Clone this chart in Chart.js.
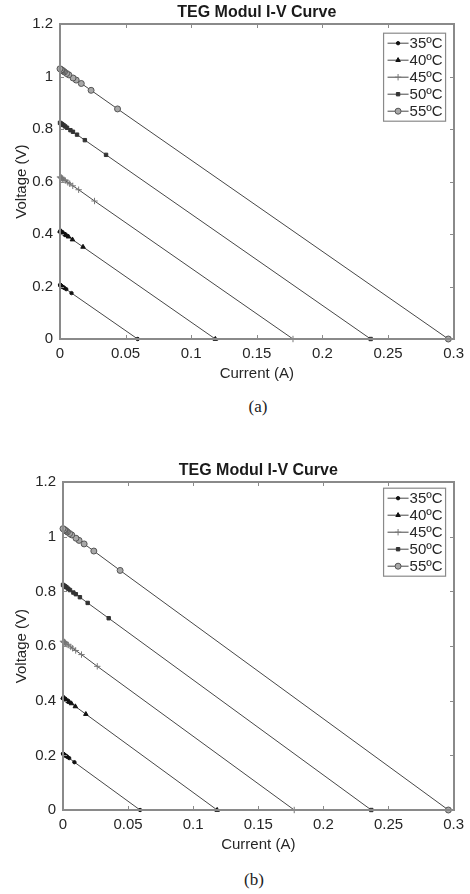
<!DOCTYPE html>
<html>
<head>
<meta charset="utf-8">
<title>TEG Modul I-V Curve</title>
<script src="https://cdn.jsdelivr.net/npm/chart.js@4.4.1/dist/chart.umd.min.js"></script>
<style>
  html, body { margin: 0; padding: 0; background: #fff; }
  body { position: relative; width: 470px; height: 894px; overflow: hidden; }
  canvas { position: absolute; left: 0; }
  .caption {
    position: absolute; width: 80px; text-align: center;
    font-family: "Liberation Serif", "Times New Roman", serif; font-size: 17px; color: #222;
  }
</style>
</head>
<body>
<canvas id="chartA" width="470" height="385" style="top:0px"></canvas>
<div class="caption" style="left:218px; top:397px">(a)</div>
<canvas id="chartB" width="470" height="398" style="top:458px"></canvas>
<div class="caption" style="left:214px; top:870px">(b)</div>

<script>
// measured load points, from short circuit (R = 0) up to open circuit
const seriesLabels = ['35ºC', '40ºC', '45ºC', '50ºC', '55ºC'];

const current35 = [0.0592, 0.00877, 0.00474, 0.00325, 0.00247, 0.00199, 0.00134, 0.00101, 0.00068, 0.00051, 0.00034, 0.00026, 0.00021, 0];
const voltage35 = [0, 0.175, 0.190, 0.195, 0.197, 0.199, 0.201, 0.202, 0.204, 0.204, 0.205, 0.205, 0.205, 0.206];

const current40 = [0.1184, 0.01755, 0.00948, 0.00649, 0.00494, 0.00398, 0.00268, 0.00202, 0.00136, 0.00102, 0.00068, 0.00051, 0.00041, 0];
const voltage40 = [0, 0.351, 0.379, 0.390, 0.395, 0.398, 0.403, 0.405, 0.407, 0.408, 0.410, 0.410, 0.411, 0.412];

const current45 = [0.1776, 0.02632, 0.01421, 0.00974, 0.0074, 0.00597, 0.00403, 0.00304, 0.00204, 0.00153, 0.00103, 0.00077, 0.00062, 0];
const voltage45 = [0, 0.526, 0.569, 0.584, 0.592, 0.597, 0.604, 0.607, 0.611, 0.613, 0.614, 0.615, 0.616, 0.618];

const current50 = [0.2368, 0.0351, 0.01895, 0.01298, 0.00987, 0.00796, 0.00537, 0.00405, 0.00272, 0.00204, 0.00137, 0.00103, 0.00082, 0];
const voltage50 = [0, 0.702, 0.758, 0.779, 0.790, 0.796, 0.805, 0.810, 0.815, 0.817, 0.819, 0.820, 0.821, 0.824];

const current55 = [0.296, 0.04387, 0.02369, 0.01623, 0.01234, 0.00995, 0.00671, 0.00506, 0.00339, 0.00255, 0.00171, 0.00128, 0.00103, 0];
const voltage55 = [0, 0.877, 0.948, 0.974, 0.987, 0.995, 1.007, 1.012, 1.018, 1.021, 1.024, 1.026, 1.026, 1.03];

const currents = [current35, current40, current45, current50, current55];
const voltages = [voltage35, voltage40, voltage45, voltage50, voltage55];

const FONT = '"Liberation Sans", Arial, Helvetica, sans-serif';
const FRAME = '#8a8a8a';
const TEXT = '#262626';

// marker look per temperature
const markers = [
  { pointStyle: 'circle',   pointRadius: 1.7, pointBackgroundColor: '#111', pointBorderColor: '#111' },
  { pointStyle: 'triangle', pointRadius: 2.6, pointBackgroundColor: '#111', pointBorderColor: '#111' },
  { pointStyle: 'cross',    pointRadius: 3.2, pointBackgroundColor: '#888', pointBorderColor: '#777' },
  { pointStyle: 'rect',     pointRadius: 2.4, pointBackgroundColor: '#333', pointBorderColor: '#333' },
  { pointStyle: 'circle',   pointRadius: 3.0, pointBackgroundColor: '#a8a8a8', pointBorderColor: '#555' },
];

function buildDatasets() {
  return seriesLabels.map((label, s) => Object.assign({
    label: label,
    data: currents[s].map((c, i) => ({ x: c, y: voltages[s][i] })),
    showLine: true,
    borderColor: '#474747',
    borderWidth: 1,
    pointBorderWidth: 1,
    pointHoverRadius: 0,
    clip: 6,
  }, markers[s]));
}

// plain tick text: 0, 0.05, 0.1 ... and 1, 1.2
const plainTick = v => String(Number(v.toFixed(3)));

// box round the axes with inward tick marks on all four sides
function drawAxesBox(chart) {
  const ctx = chart.ctx;
  const a = chart.chartArea;
  const xs = chart.scales.x, ys = chart.scales.y;
  const len = 4;
  const L = Math.round(a.left), R = Math.round(a.right);
  const T = Math.round(a.top), B = Math.round(a.bottom);
  ctx.save();
  ctx.fillStyle = FRAME;
  // four sides
  ctx.fillRect(L - 1, T - 1, R - L + 2, 2);
  ctx.fillRect(L - 1, B - 1, R - L + 2, 2);
  ctx.fillRect(L - 1, T - 1, 2, B - T + 2);
  ctx.fillRect(R - 1, T - 1, 2, B - T + 2);
  // inward ticks
  xs.ticks.forEach(t => {
    const px = Math.round(xs.getPixelForValue(t.value));
    ctx.fillRect(px, B - len, 1, len);
    ctx.fillRect(px, T, 1, len);
  });
  ys.ticks.forEach(t => {
    const py = Math.round(ys.getPixelForValue(t.value));
    ctx.fillRect(L, py, len, 1);
    ctx.fillRect(R - len, py, len, 1);
  });
  ctx.restore();
}

// framed legend in the upper right corner, line with marker per entry
function drawLegend(chart, opts) {
  const { ctx, chartArea: a } = chart;
  const rowH = 17, boxW = 62;
  const sets = chart.data.datasets;
  const right = a.right - opts.inset;
  const left = right - boxW;
  const top = a.top + opts.drop;
  const h = sets.length * rowH + 3;
  ctx.save();
  ctx.fillStyle = '#fff';
  ctx.fillRect(left, top, boxW, h);
  ctx.strokeStyle = FRAME;
  ctx.lineWidth = 1.2;
  ctx.strokeRect(left, top, boxW, h);
  ctx.font = '15px ' + FONT;
  ctx.textBaseline = 'middle';
  ctx.textAlign = 'left';
  sets.forEach((ds, i) => {
    const y = top + 10 + i * rowH;
    ctx.strokeStyle = ds.borderColor;
    ctx.lineWidth = 1;
    ctx.beginPath();
    ctx.moveTo(left + 4, y); ctx.lineTo(left + 25, y);
    ctx.stroke();
    ctx.fillStyle = ds.pointBackgroundColor;
    ctx.strokeStyle = ds.pointBorderColor;
    Chart.helpers.drawPoint(ctx, {
      pointStyle: ds.pointStyle, radius: ds.pointRadius, rotation: 0, borderWidth: 1
    }, left + 14.5, y);
    ctx.fillStyle = TEXT;
    ctx.fillText(ds.label, left + 26, y + 1);
  });
  ctx.restore();
}

const axesDecor = {
  id: 'axesDecor',
  afterDraw(chart, args, opts) {
    drawLegend(chart, opts);
    drawAxesBox(chart);
  }
};

function makeChart(id, yAxisWidth, rightPad, legendDrop) {
  return new Chart(document.getElementById(id), {
    type: 'scatter',
    data: { datasets: buildDatasets() },
    plugins: [axesDecor],
    options: {
      responsive: false,
      animation: false,
      events: [],
      layout: { padding: { left: 0, right: rightPad, top: 0, bottom: 0 } },
      plugins: {
        legend: { display: false },
        tooltip: { enabled: false },
        title: {
          display: true,
          fullSize: false,
          text: 'TEG Modul I-V Curve',
          color: '#1a1a1a',
          font: { family: FONT, size: 16, weight: 'bold', lineHeight: 1.2 },
          padding: { top: 3, bottom: 2 },
        },
        axesDecor: { inset: 8, drop: legendDrop },
      },
      scales: {
        x: {
          type: 'linear',
          min: 0, max: 0.3,
          grid: { display: false, drawTicks: false },
          border: { display: true, color: FRAME, width: 1.5 },
          ticks: {
            stepSize: 0.05, color: TEXT, padding: 6,
            font: { family: FONT, size: 15 }, callback: plainTick,
          },
          title: {
            display: true, text: 'Current (A)', color: TEXT,
            font: { family: FONT, size: 15, lineHeight: 1.2 },
            padding: { top: 0, bottom: 2 },
          },
          afterFit(scale) { scale.height = 46; },
        },
        y: {
          type: 'linear',
          min: 0, max: 1.2,
          grid: { display: false, drawTicks: false },
          border: { display: true, color: FRAME, width: 1.5 },
          ticks: {
            stepSize: 0.2, color: TEXT, padding: 7,
            font: { family: FONT, size: 15 }, callback: plainTick,
          },
          title: {
            display: true, text: 'Voltage (V)', color: TEXT,
            font: { family: FONT, size: 15, lineHeight: 1.2 },
            padding: { top: 13, bottom: 0 },
          },
          afterFit(scale) { scale.width = yAxisWidth; },
        },
      },
    },
  });
}

makeChart('chartA', 60, 13, 9);
makeChart('chartB', 63, 14, 6);
</script>
</body>
</html>
